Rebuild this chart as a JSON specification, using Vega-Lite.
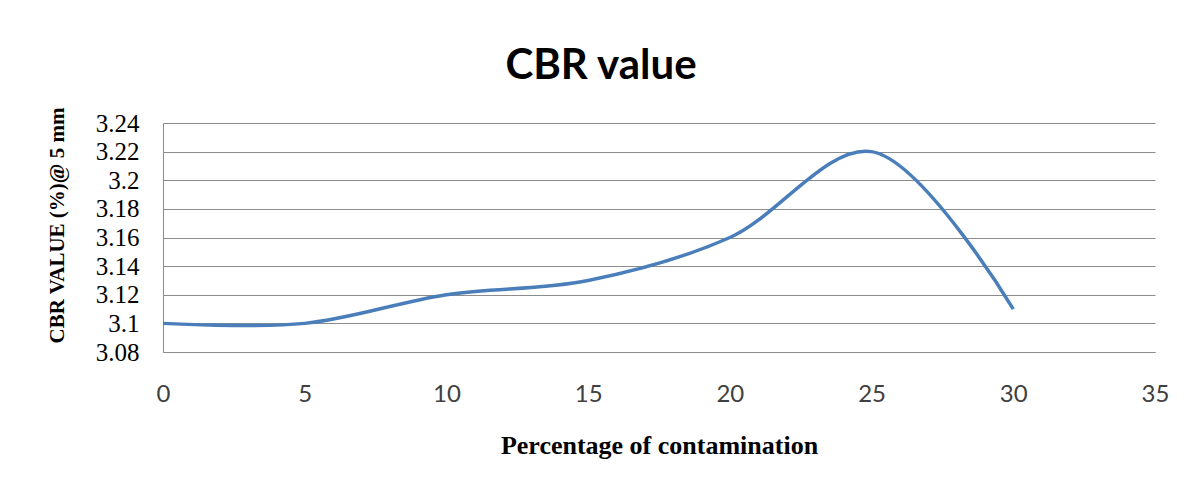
{
  "$schema": "https://vega.github.io/schema/vega-lite/v6.json",
  "autosize": "none",
  "width": 992,
  "height": 229,
  "padding": {"left": 163, "top": 123, "right": 33, "bottom": 135},
  "background": "white",
  "title": {
    "text": "CBR value",
    "font": "Lato",
    "fontSize": 42,
    "fontWeight": "bold",
    "color": "#000000",
    "anchor": "middle",
    "dx": -58,
    "offset": 19
  },
  "data": {
    "values": [
      {"pct": 0, "cbr": 3.10},
      {"pct": 5, "cbr": 3.10},
      {"pct": 10, "cbr": 3.12},
      {"pct": 15, "cbr": 3.13},
      {"pct": 20, "cbr": 3.16},
      {"pct": 25, "cbr": 3.22},
      {"pct": 30, "cbr": 3.11}
    ]
  },
  "mark": {"type": "line", "interpolate": "catmull-rom", "color": "#4a7ebb", "strokeWidth": 3.5, "clip": false},
  "encoding": {
    "x": {
      "field": "pct",
      "type": "quantitative",
      "scale": {"domain": [0, 35], "nice": false, "zero": false},
      "axis": {
        "title": "Percentage of contamination",
        "values": [0, 5, 10, 15, 20, 25, 30, 35],
        "grid": false,
        "ticks": false,
        "domain": true,
        "domainColor": "#8c8c8c",
        "labelFlush": false,
        "labelOverlap": false,
        "labelFont": "Lato",
        "labelFontSize": 24,
        "labelColor": "#404040",
        "labelPadding": 30,
        "titleFont": "Liberation Serif",
        "titleFontSize": 26,
        "titleFontWeight": "bold",
        "titleColor": "#000000",
        "titleBaseline": "middle",
        "titleY": 93
      }
    },
    "y": {
      "field": "cbr",
      "type": "quantitative",
      "scale": {"domain": [3.08, 3.24], "nice": false, "zero": false},
      "axis": {
        "title": "CBR VALUE (%)@ 5 mm",
        "values": [3.08, 3.1, 3.12, 3.14, 3.16, 3.18, 3.2, 3.22, 3.24],
        "format": ".2~f",
        "grid": true,
        "gridColor": "#8c8c8c",
        "gridWidth": 1,
        "ticks": false,
        "domain": true,
        "domainColor": "#8c8c8c",
        "labelFlush": false,
        "labelOverlap": false,
        "labelFont": "Liberation Serif, Times New Roman, serif",
        "labelFontSize": 25,
        "labelColor": "#000000",
        "labelPadding": 24,
        "titleFont": "Liberation Serif",
        "titleFontSize": 21,
        "titleFontWeight": "bold",
        "titleColor": "#000000",
        "titleAngle": -90,
        "titleAlign": "center",
        "titleBaseline": "middle",
        "titleX": -106,
        "titleY": 102
      }
    }
  },
  "config": {"view": {"stroke": null}}
}
